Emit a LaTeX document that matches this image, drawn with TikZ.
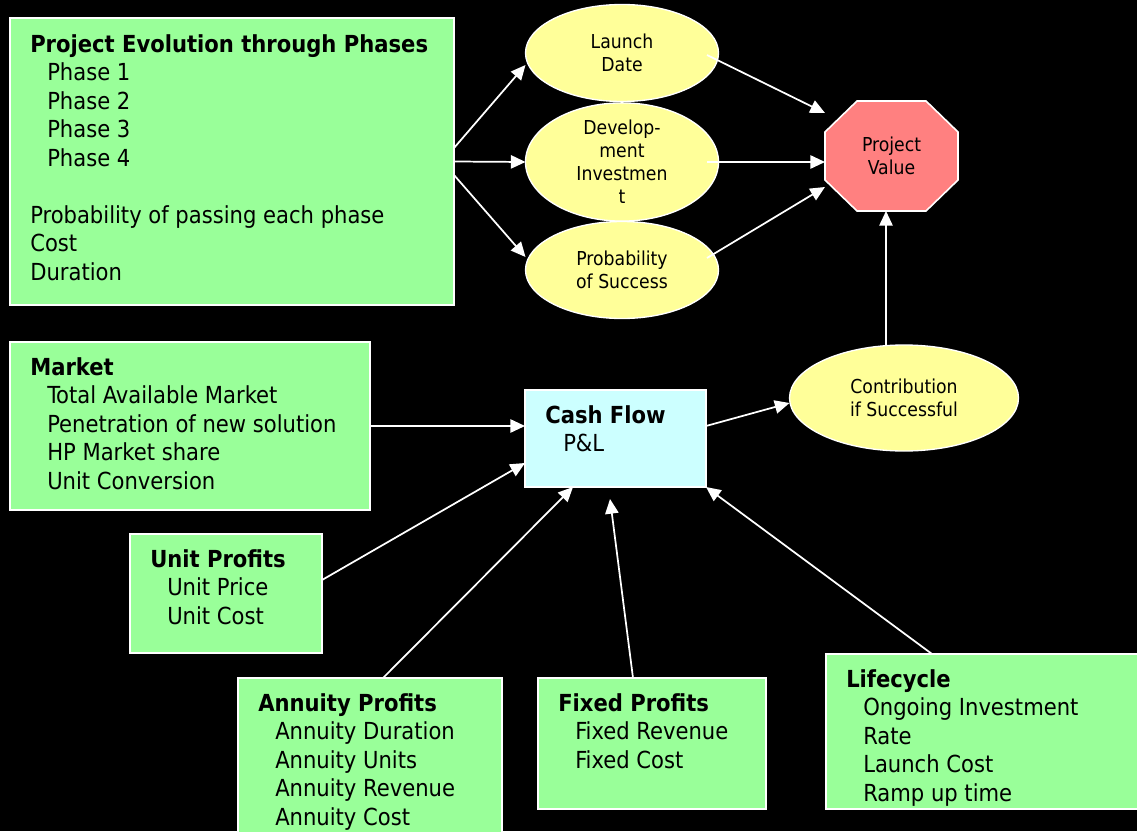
\documentclass[tikz,border=0pt]{standalone}
\usepackage{fontspec}
\setmainfont{DejaVu Sans Condensed}
\usetikzlibrary{calc,arrows.meta,shapes.geometric}
\definecolor{boxgreen}{HTML}{99FF99}
\definecolor{boxcyan}{HTML}{CCFFFF}
\definecolor{ellyellow}{HTML}{FFFF99}
\definecolor{octred}{HTML}{FF8080}
\tikzset{
  box/.style={draw=white, line width=1.5pt, fill=boxgreen, anchor=north west, inner sep=0pt, outer sep=0pt},
  lbl/.style={anchor=north west, inner sep=0pt, align=left, text=black, font=\fontsize{17.6}{21.4}\selectfont},
  ell/.style={ellipse, draw=white, line width=1pt, fill=ellyellow, inner sep=0pt, outer sep=0pt,
              minimum width=144.75pt, minimum height=72.75pt, align=center, text=black,
              font=\fontsize{14.4}{17.25}\selectfont},
  arr/.style={draw=white, line width=1.3pt, -{Triangle[length=11pt,width=10pt]}},
}
\newcommand{\ind}{\hspace*{12.75pt}}
\begin{document}
\begin{tikzpicture}[x=0.75pt,y=-0.75pt]
\useasboundingbox (0,0) rectangle (1137,831);
\fill[black] (0,0) rectangle (1137,831);

% boxes
\node[box, minimum width=333pt, minimum height=215.25pt] (p1) at (10,18) {};
\node[box, minimum width=270pt, minimum height=126pt] (mk) at (10,342) {};
\node[box, minimum width=144pt, minimum height=89.25pt] (up) at (130,534) {};
\node[box, minimum width=198pt, minimum height=120pt] (an) at (238,678) {};
\node[box, minimum width=171pt, minimum height=98.25pt] (fx) at (538,678) {};
\node[box, minimum width=235.5pt, minimum height=116.25pt] (lc) at (826,654) {};
\node[box, fill=boxcyan, minimum width=135.75pt, minimum height=72.75pt] (cf) at (525,390) {};

% box texts
\node[lbl] (p1t) at (30,32) {\strut\textbf{Project Evolution through Phases}\\
  \ind Phase 1\\ \ind Phase 2\\ \ind Phase 3\\ \ind Phase 4\\[21.4pt]
  Probability of passing each phase\\ Cost\\ Duration};
\node[lbl] (mkt) at (30,355) {\strut\textbf{Market}\\ \ind Total Available Market\\
  \ind Penetration of new solution\\ \ind HP Market share\\ \ind Unit Conversion};
\node[lbl] (upt) at (150,547) {\strut\textbf{Unit Profits}\\ \ind Unit Price\\ \ind Unit Cost};
\node[lbl] (ant) at (258,691) {\strut\textbf{Annuity Profits}\\ \ind Annuity Duration\\
  \ind Annuity Units\\ \ind Annuity Revenue\\ \ind Annuity Cost};
\node[lbl] (fxt) at (558,691) {\strut\textbf{Fixed Profits}\\ \ind Fixed Revenue\\ \ind Fixed Cost};
\node[lbl] (lct) at (846,667) {\strut\textbf{Lifecycle}\\ \ind Ongoing Investment\\ \ind Rate\\
  \ind Launch Cost\\ \ind Ramp up time};
\node[lbl] (cft) at (545,403) {\strut\textbf{Cash Flow}\\ \hspace*{13.5pt}P\&L};

% ellipses
\node[ell] (ld) at (622,53) {Launch\\Date};
\node[ell] (dev) at (622,162) {Develop-\\ment\\Investmen\\t};
\node[ell] (pos) at (622,270) {Probability\\of Success};
\node[ell, minimum width=171.75pt, minimum height=79.5pt] (ct) at (904,398) {Contribution\\if Successful};

% project value octagon
\node[minimum width=99.75pt, minimum height=82.5pt, inner sep=0pt, outer sep=0pt] (pv) at (891.5,156) {};
\filldraw[fill=octred, draw=white, line width=1.2pt]
  ($(pv.north west)+(32,0)$) -- ($(pv.north east)+(-32,0)$) -- ($(pv.north east)+(0,31)$)
  -- ($(pv.south east)+(0,-31)$) -- ($(pv.south east)+(-32,0)$) -- ($(pv.south west)+(32,0)$)
  -- ($(pv.south west)+(0,-31)$) -- ($(pv.north west)+(0,31)$) -- cycle;
\node[align=center, text=black, inner sep=0pt, font=\fontsize{14.4}{17.25}\selectfont] (pvt) at (pv.center) {Project\\Value};

% connectors
\draw[arr] ($(p1.east)+(0,-13.5)$) -- ($(ld.west)+(0,12)$);
\draw[arr] (p1.east) -- (dev.west);
\draw[arr] ($(p1.east)+(0,13.5)$) -- ($(pos.west)+(0,-13)$);
\draw[arr] ($(ld.center)+(85,2)$) -- ($(pv.north west)+(0,12)$);
\draw[arr] ($(dev.center)+(85,0)$) -- ($(pv.west)+(0,6)$);
\draw[arr] ($(pos.center)+(85,-12)$) -- ($(pv.south west)+(0,-24)$);
\draw[arr] (mk.east) -- ($(cf.west)+(0,-12.5)$);
\draw[arr] ($(up.east)+(0,-13.5)$) -- ($(cf.west)+(0,24.5)$);
\draw[arr] ($(an.north)+(13,0)$) -- ($(cf.south)+(-42.5,0)$);
\draw[arr] ($(fx.north)+(-19,0)$) -- ($(cf.south)+(-5.5,12)$);
\draw[arr] ($(lc.north)+(-51,0)$) -- (cf.south east);
\draw[arr] ($(cf.east)+(0,-12.5)$) -- ($(ct.west)+(0,5)$);
\draw[arr] ($(ct.north)+(-18,0)$) -- ($(pv.south)+(-5.5,0)$);
\end{tikzpicture}
\end{document}
